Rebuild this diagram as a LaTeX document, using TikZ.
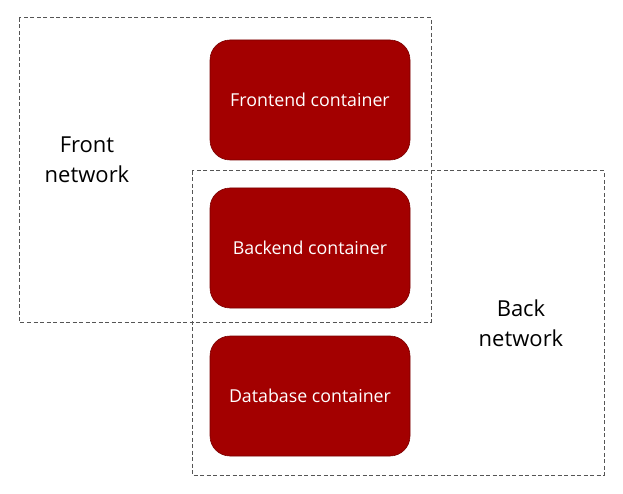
\documentclass[tikz,border=0pt]{standalone}
\usepackage{fontspec}
\setmainfont{Open Sans}
\definecolor{boxred}{HTML}{A30000}
\definecolor{boxedge}{HTML}{7A0000}
\definecolor{dashgray}{HTML}{555555}
\begin{document}
\begin{tikzpicture}[x=1pt,y=-1pt,
  netbox/.style={draw=dashgray, line width=1pt, dash pattern=on 4pt off 2.5pt},
  container/.style={draw=boxedge, line width=0.6pt, fill=boxred, rounded corners=20pt,
    minimum width=200pt, minimum height=120pt, text=white, font=\fontsize{17.8}{20}\selectfont},
  netlabel/.style={align=center, font=\fontsize{22}{30}\selectfont, text=black}]
\useasboundingbox (0,0) rectangle (623,494);
\draw[netbox] (19,18) rectangle (431,322);
\draw[netbox] (192,171) rectangle (604,475);
\node[container] (front) at (310,100) {Frontend container};
\node[container] (back) at (310,248) {Backend container};
\node[container] (db) at (310,396) {Database container};
\node[netlabel] (fnet) at (87,160) {Front\\network};
\node[netlabel] (bnet) at (521,323) {Back\\network};
\end{tikzpicture}
\end{document}
